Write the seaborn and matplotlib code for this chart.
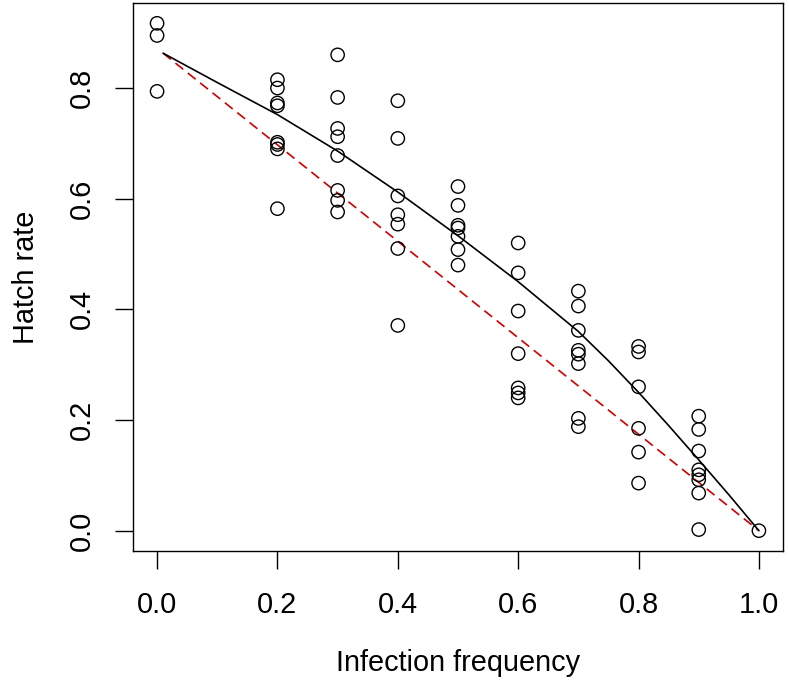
import matplotlib
matplotlib.use("Agg")
import matplotlib.pyplot as plt
import numpy as np
import pandas as pd
import seaborn as sns

# --- data ---------------------------------------------------------------------
freq_levels = [0.0, 0.2, 0.3, 0.4, 0.5, 0.6, 0.7, 0.8, 0.9, 1.0]
hatch_groups = [
    [0.917, 0.895, 0.794],
    [0.815, 0.800, 0.773, 0.768, 0.702, 0.698, 0.690, 0.582],
    [0.860, 0.783, 0.727, 0.712, 0.678, 0.615, 0.597, 0.576],
    [0.777, 0.709, 0.605, 0.571, 0.554, 0.510, 0.371],
    [0.622, 0.588, 0.552, 0.547, 0.532, 0.508, 0.480],
    [0.520, 0.466, 0.397, 0.320, 0.258, 0.249, 0.240],
    [0.433, 0.406, 0.362, 0.326, 0.319, 0.302, 0.203, 0.188],
    [0.333, 0.323, 0.260, 0.185, 0.142, 0.086],
    [0.207, 0.183, 0.144, 0.110, 0.101, 0.092, 0.068, 0.002],
    [0.0],
]

# fitted curve (solid) and null expectation (red dashed)
fit_x = [0.01, 0.1, 0.2, 0.3, 0.4, 0.5, 0.6, 0.7, 0.75, 0.8, 0.85, 0.9, 0.95, 1.0]
fit_y = [0.863, 0.810, 0.752, 0.686, 0.612, 0.533, 0.450, 0.360, 0.307,
         0.250, 0.190, 0.128, 0.065, 0.0]
null_x = [0.01, 1.0]
null_y = [0.863, 0.0]

x_ticks = [0.0, 0.2, 0.4, 0.6, 0.8, 1.0]
y_ticks = [0.0, 0.2, 0.4, 0.6, 0.8]

points = pd.DataFrame(
    [{"freq": f, "hatch": h} for f, grp in zip(freq_levels, hatch_groups) for h in grp]
)
fit = pd.DataFrame({"x": fit_x, "y": fit_y})
null = pd.DataFrame({"x": null_x, "y": null_y})

# --- plot ----------------------------------------------------------------------
sns.set_style("ticks")
plt.rcParams.update({
    "font.family": ["Liberation Sans", "DejaVu Sans"],
    "font.size": 20.8,
    "axes.linewidth": 1.0,
    "xtick.major.width": 1.0,
    "ytick.major.width": 1.0,
    "xtick.major.size": 12.7,
    "ytick.major.size": 12.7,
    "xtick.color": "black",
    "ytick.color": "black",
    "axes.edgecolor": "black",
    "text.color": "black",
    "axes.labelcolor": "black",
})

fig = plt.figure(figsize=(7.89, 6.91), dpi=100)
ax = fig.add_axes([133 / 789, 1 - 551 / 691, (783 - 133) / 789, (551 - 3) / 691])

sns.lineplot(data=null, x="x", y="y", color="#CD0000", linewidth=1.2,
             linestyle=(0, (6, 3.5)), ax=ax)
sns.lineplot(data=fit, x="x", y="y", color="black", linewidth=1.2, ax=ax)
sns.scatterplot(data=points, x="freq", y="hatch", s=92, facecolors="none",
                edgecolor="black", linewidth=1.0, ax=ax, zorder=3)

ax.set_xlim(-0.04, 1.04)
ax.set_ylim(-0.0367, 0.9537)
ax.set_xticks(x_ticks)
ax.set_xticklabels([f"{v:.1f}" for v in x_ticks])
ax.set_yticks(y_ticks)
ax.set_yticklabels([f"{v:.1f}" for v in y_ticks], rotation=90, va="center")
ax.tick_params(axis="x", pad=16)
ax.tick_params(axis="y", pad=14)
for s in ax.spines.values():
    s.set_visible(True)

ax.set_xlabel("Infection frequency", labelpad=22)
ax.set_ylabel("Hatch rate", labelpad=20)

fig.savefig("out.png", dpi=100)
